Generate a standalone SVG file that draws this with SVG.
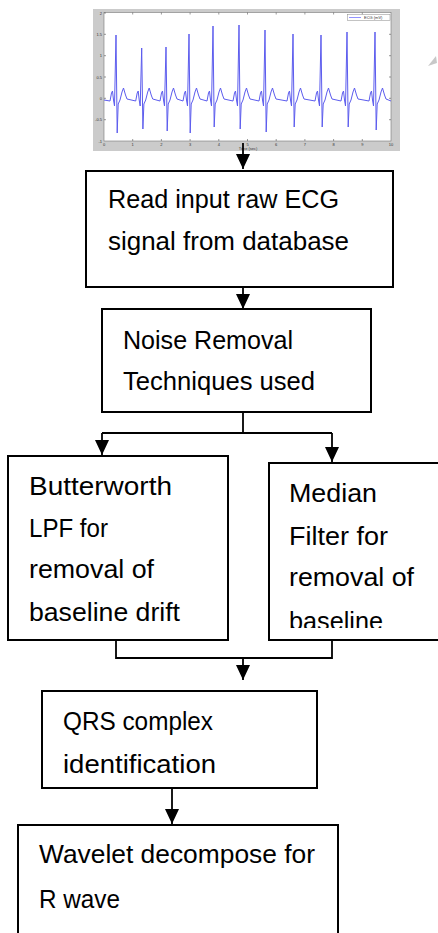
<svg xmlns="http://www.w3.org/2000/svg" width="438" height="933" viewBox="0 0 438 933">
<style>
.box{fill:#fff;stroke:#000;stroke-width:2}
.t{font-family:"Liberation Sans",Arial,sans-serif;font-size:25px;fill:#000}
.c{fill:none;stroke:#000;stroke-width:1.8}
.tk{stroke:#555;stroke-width:0.6}
.tl{font-family:"Liberation Sans",Arial,sans-serif;font-size:4px;fill:#333}
</style>
<defs>
<marker id="ah" viewBox="0 0 15 14" refX="15" refY="7" markerWidth="15" markerHeight="14" markerUnits="userSpaceOnUse" orient="auto">
<path d="M0,0 L15,7 L0,14 z" fill="#000"/>
</marker>
<clipPath id="clip4"><rect x="269" y="463" width="175" height="165"/></clipPath>
</defs>
<rect width="438" height="933" fill="#fff"/>

<g id="ecg-plot">
<rect x="93" y="9" width="307" height="142" fill="#cbcbcb"/>
<rect x="104" y="12.5" width="287" height="128.5" fill="#fff" stroke="#777" stroke-width="0.6"/>
<g class="tk">
<path d="M104,13h2M104,34.3h2M104,55.7h2M104,77h2M104,98.3h2M104,119.7h2M391,34.3h-2M391,55.7h-2M391,77h-2M391,98.3h-2M391,119.7h-2"/>
<path d="M132.7,141v-2M161.4,141v-2M190.1,141v-2M218.8,141v-2M247.5,141v-2M276.2,141v-2M304.9,141v-2M333.6,141v-2M362.3,141v-2M132.7,12.5v2M161.4,12.5v2M190.1,12.5v2M218.8,12.5v2M247.5,12.5v2M276.2,12.5v2M304.9,12.5v2M333.6,12.5v2M362.3,12.5v2"/>
</g>
<g class="tl" text-anchor="end">
<text x="102" y="14.5">2</text><text x="102" y="35.8">1.5</text><text x="102" y="57.2">1</text><text x="102" y="78.5">0.5</text><text x="102" y="99.8">0</text><text x="102" y="121.2">-0.5</text><text x="102" y="142.5">-1</text>
</g>
<g class="tl" text-anchor="middle">
<text x="104" y="145.5">0</text><text x="132.7" y="145.5">1</text><text x="161.4" y="145.5">2</text><text x="190.1" y="145.5">3</text><text x="218.8" y="145.5">4</text><text x="247.5" y="145.5">5</text><text x="276.2" y="145.5">6</text><text x="304.9" y="145.5">7</text><text x="333.6" y="145.5">8</text><text x="362.3" y="145.5">9</text><text x="391" y="145.5">10</text>
<text x="248" y="149.5">Time (sec)</text>
</g>
<rect x="347.5" y="14.5" width="42.5" height="6" fill="#fff" stroke="#888" stroke-width="0.5"/>
<path d="M349,17.5h12" stroke="#7777ff" stroke-width="0.8"/>
<text class="tl" x="364" y="19">ECG (mV)</text>
<path fill="none" stroke="#5c5cee" stroke-width="1" stroke-linejoin="round" d="M104,100 L110,101 111.5,93 112.5,91 113.5,100 114.5,106 116,35 117.2,133 118.2,104 120,100 122,92 123.5,88 125.5,95 127,99 L135.7,101 137.2,93 138.2,91 139.2,100 140.2,106 141.7,48 142.9,129 143.9,104 145.7,100 147.7,92 149.2,88 151.2,95 152.7,99 L160,101 161.5,93 162.5,91 163.5,100 164.5,106 166,47 167.2,131 168.2,104 170,100 172,92 173.5,88 175.5,95 177,99 L183,101 184.5,93 185.5,91 186.5,100 187.5,106 189,34 190.2,133 191.2,104 193,100 195,92 196.5,88 198.5,95 200,99 L207,101 208.5,93 209.5,91 210.5,100 211.5,106 213,26 214.2,127 215.2,104 217,100 219,92 220.5,88 222.5,95 224,99 L233,101 234.5,93 235.5,91 236.5,100 237.5,106 239,25 240.2,129 241.2,104 243,100 245,92 246.5,88 248.5,95 250,99 L259,101 260.5,93 261.5,91 262.5,100 263.5,106 265,30 266.2,132 267.2,104 269,100 271,92 272.5,88 274.5,95 276,99 L287,101 288.5,93 289.5,91 290.5,100 291.5,106 293,34 294.2,127 295.2,104 297,100 299,92 300.5,88 302.5,95 304,99 L315,101 316.5,93 317.5,91 318.5,100 319.5,106 321,35 322.2,127 323.2,104 325,100 327,92 328.5,88 330.5,95 332,99 L341,101 342.5,93 343.5,91 344.5,100 345.5,106 347,32 348.2,127 349.2,104 351,100 353,92 354.5,88 356.5,95 358,99 L369,101 370.5,93 371.5,91 372.5,100 373.5,106 375,32 376.2,130 377.2,104 379,100 381,92 382.5,88 384.5,95 386,99 L391,101"/>
</g>

<polygon points="428,66 436,56 437,63" fill="#c8c8c8"/>

<g id="connectors">
<path class="c" d="M243,143 V169" marker-end="url(#ah)"/>
<path class="c" d="M243,287 V309" marker-end="url(#ah)"/>
<path class="c" d="M243,412 V433"/>
<path class="c" d="M102,433 H332"/>
<path class="c" d="M102,433 V455" marker-end="url(#ah)"/>
<path class="c" d="M332,433 V462" marker-end="url(#ah)"/>
<path class="c" d="M116,640 V658 H332 V640"/>
<path class="c" d="M243,658 V680" marker-end="url(#ah)"/>
<path class="c" d="M172,788 V824" marker-end="url(#ah)"/>
</g>

<g id="read-input">
<rect class="box" x="86" y="171" width="307" height="116"/>
<text class="t" x="108" y="208" textLength="231" lengthAdjust="spacingAndGlyphs">Read input raw ECG</text>
<text class="t" x="108" y="250" textLength="241" lengthAdjust="spacingAndGlyphs">signal from database</text>
</g>

<g id="noise-removal">
<rect class="box" x="102" y="309" width="269" height="103"/>
<text class="t" x="123" y="349" textLength="170" lengthAdjust="spacingAndGlyphs">Noise Removal</text>
<text class="t" x="123" y="390" textLength="192" lengthAdjust="spacingAndGlyphs">Techniques used</text>
</g>

<g id="butterworth">
<rect class="box" x="8" y="456" width="220" height="184"/>
<text class="t" x="29" y="495" textLength="143" lengthAdjust="spacingAndGlyphs">Butterworth</text>
<text class="t" x="29" y="537" textLength="79" lengthAdjust="spacingAndGlyphs">LPF for</text>
<text class="t" x="29" y="578" textLength="125" lengthAdjust="spacingAndGlyphs">removal of</text>
<text class="t" x="29" y="621" textLength="151" lengthAdjust="spacingAndGlyphs">baseline drift</text>
</g>

<g id="median">
<rect class="box" x="269" y="463" width="175" height="177"/>
<g clip-path="url(#clip4)">
<text class="t" x="289" y="502" textLength="88" lengthAdjust="spacingAndGlyphs">Median</text>
<text class="t" x="289" y="545" textLength="99" lengthAdjust="spacingAndGlyphs">Filter for</text>
<text class="t" x="289" y="586" textLength="125" lengthAdjust="spacingAndGlyphs">removal of</text>
<text class="t" x="289" y="630" textLength="94" lengthAdjust="spacingAndGlyphs">baseline</text>
</g>
</g>

<g id="qrs">
<rect class="box" x="42" y="691" width="275" height="97"/>
<text class="t" x="63" y="730" textLength="150" lengthAdjust="spacingAndGlyphs">QRS complex</text>
<text class="t" x="63" y="773" textLength="153" lengthAdjust="spacingAndGlyphs">identification</text>
</g>

<g id="wavelet">
<rect class="box" x="18" y="825" width="320" height="120"/>
<text class="t" x="39" y="863" textLength="276" lengthAdjust="spacingAndGlyphs">Wavelet decompose for</text>
<text class="t" x="39" y="908" textLength="81" lengthAdjust="spacingAndGlyphs">R wave</text>
</g>
</svg>
